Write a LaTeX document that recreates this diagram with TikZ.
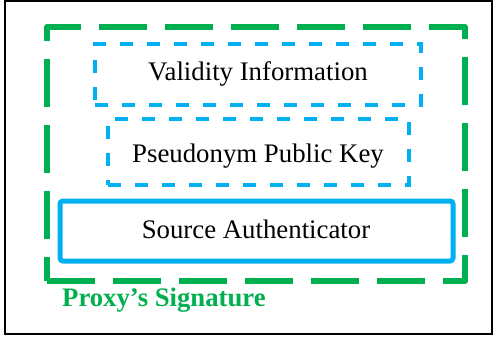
\documentclass[tikz,border=0pt]{standalone}
\usepackage{fontspec}
\setmainfont{Liberation Serif}
\definecolor{sigGreen}{RGB}{0,176,80}
\definecolor{fieldBlue}{RGB}{0,176,240}

\begin{document}
\begin{tikzpicture}
[x=1pt, y=-1pt,
 outer/.style ={draw=sigGreen, line width=6pt, dash pattern=on 48pt off 18pt, line join=round},
 dashbox/.style ={rectangle, draw=fieldBlue, line width=3.5pt, dash pattern=on 13pt off 14pt, inner sep=0pt},
 solidbox/.style ={rectangle, draw=fieldBlue, line width=5pt, rounded corners=3pt, inner sep=0pt},
 txt/.style ={font=\fontsize{26.8}{30}\selectfont, inner sep=0pt},
 sigtxt/.style ={font=\fontsize{26.7}{30}\selectfont\bfseries, text=sigGreen, inner sep=0pt}]
\useasboundingbox (0,0) rectangle (500,338);
\draw[line width=1.5pt] (5,1) rectangle (492,334);
\path (256,154) node[rectangle, outer, minimum width=418, minimum height=254] (sig) {};
\path (258,74.5) node[dashbox, minimum width=326, minimum height=61] (valid) {}
      (258.5,152) node[dashbox, minimum width=301, minimum height=66] (pseudo) {}
      (256.5,231) node[solidbox, minimum width=393, minimum height=60] (source) {};
\path (258,80) node[txt, anchor=base] (validtxt) {Validity Information}
      (258,162) node[txt, anchor=base] (pseudotxt) {Pseudonym Public Key}
      (256,238) node[txt, anchor=base] (sourcetxt) {Source Authenticator}
      (62,306) node[sigtxt, anchor=base west] (sigtxt) {Proxy’s Signature};
\end{tikzpicture}
\end{document}
